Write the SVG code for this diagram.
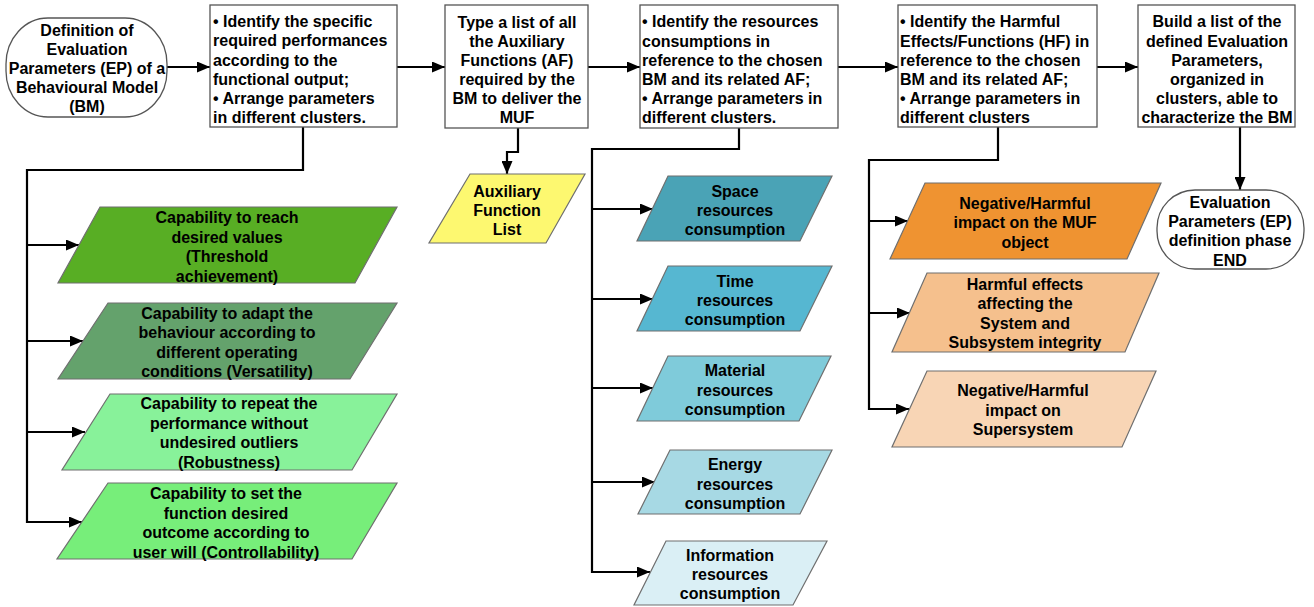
<svg xmlns="http://www.w3.org/2000/svg" width="1314" height="607" viewBox="0 0 1314 607">
<defs>
<marker id="ah" markerUnits="userSpaceOnUse" markerWidth="13" markerHeight="11" refX="13" refY="5.5" orient="auto">
<path d="M0,0 L13,5.5 L0,11 z" fill="#000"/>
</marker>
<style>
text{font-family:"Liberation Sans",Arial,sans-serif;font-weight:bold;font-size:16px;fill:#000}
.c{text-anchor:middle}
.box{fill:#fff;stroke:#555;stroke-width:1.3}
.para{stroke:#6f6f6f;stroke-width:1.2}
.con{fill:none;stroke:#000;stroke-width:2.2}
</style>
</defs>
<rect width="1314" height="607" fill="#fff"/>

<g id="connectors">
<path class="con" d="M167,67 H210" marker-end="url(#ah)"/>
<path class="con" d="M397,67 H445" marker-end="url(#ah)"/>
<path class="con" d="M588,67 H640" marker-end="url(#ah)"/>
<path class="con" d="M838,67 H898" marker-end="url(#ah)"/>
<path class="con" d="M1097,67 H1138" marker-end="url(#ah)"/>
<path class="con" d="M303,127 V170 H27 V522 H82" marker-end="url(#ah)"/>
<path class="con" d="M27,245 H79" marker-end="url(#ah)"/>
<path class="con" d="M27,341 H83" marker-end="url(#ah)"/>
<path class="con" d="M27,432 H85" marker-end="url(#ah)"/>
<path class="con" d="M518,128 V152 H507 V174" marker-end="url(#ah)"/>
<path class="con" d="M739,128 V149 H592 V572 H650" marker-end="url(#ah)"/>
<path class="con" d="M592,209 H653" marker-end="url(#ah)"/>
<path class="con" d="M592,299 H653" marker-end="url(#ah)"/>
<path class="con" d="M592,388 H653" marker-end="url(#ah)"/>
<path class="con" d="M592,482 H655" marker-end="url(#ah)"/>
<path class="con" d="M998,127 V160 H869 V409 H909" marker-end="url(#ah)"/>
<path class="con" d="M869,221 H908" marker-end="url(#ah)"/>
<path class="con" d="M869,313 H910" marker-end="url(#ah)"/>
<path class="con" d="M1240,127 V190" marker-end="url(#ah)"/>
</g>

<g id="start">
<rect class="box" x="6" y="18" width="161" height="99" rx="42" ry="46"/>
<text class="c" x="87" y="36">Definition of</text>
<text class="c" x="87" y="55">Evaluation</text>
<text class="c" x="87" y="74">Parameters (EP) of a</text>
<text class="c" x="87" y="93">Behavioural Model</text>
<text class="c" x="87" y="112">(BM)</text>
</g>

<g id="step1">
<rect class="box" x="210" y="5" width="187" height="122"/>
<text x="213" y="27">• Identify the specific</text>
<text x="213" y="46">required performances</text>
<text x="213" y="66">according to the</text>
<text x="213" y="85">functional output;</text>
<text x="213" y="104">• Arrange parameters</text>
<text x="213" y="123">in different clusters.</text>
</g>

<g id="step2">
<rect class="box" x="445" y="5" width="143" height="123"/>
<text class="c" x="517" y="28">Type a list of all</text>
<text class="c" x="517" y="47">the Auxiliary</text>
<text class="c" x="517" y="66">Functions (AF)</text>
<text class="c" x="517" y="85">required by the</text>
<text class="c" x="517" y="104">BM to deliver the</text>
<text class="c" x="517" y="123">MUF</text>
</g>

<g id="step3">
<rect class="box" x="640" y="5" width="198" height="123"/>
<text x="642" y="27">• Identify the resources</text>
<text x="642" y="47">consumptions in</text>
<text x="642" y="66">reference to the chosen</text>
<text x="642" y="85">BM and its related AF;</text>
<text x="642" y="104">• Arrange parameters in</text>
<text x="642" y="123">different clusters.</text>
</g>

<g id="step4">
<rect class="box" x="898" y="5" width="199" height="122"/>
<text x="900" y="27">• Identify the Harmful</text>
<text x="900" y="47">Effects/Functions (HF) in</text>
<text x="900" y="66">reference to the chosen</text>
<text x="900" y="85">BM and its related AF;</text>
<text x="900" y="104">• Arrange parameters in</text>
<text x="900" y="123">different clusters</text>
</g>

<g id="step5">
<rect class="box" x="1138" y="5" width="157" height="122"/>
<text class="c" x="1217" y="27">Build a list of the</text>
<text class="c" x="1217" y="47">defined Evaluation</text>
<text class="c" x="1217" y="66">Parameters,</text>
<text class="c" x="1217" y="85">organized in</text>
<text class="c" x="1217" y="104">clusters, able to</text>
<text class="c" x="1217" y="123">characterize the BM</text>
</g>

<g id="end">
<rect class="box" x="1157" y="190" width="147" height="79" rx="38" ry="38"/>
<text class="c" x="1230" y="208">Evaluation</text>
<text class="c" x="1230" y="227">Parameters (EP)</text>
<text class="c" x="1230" y="246">definition phase</text>
<text class="c" x="1230" y="266">END</text>
</g>

<g id="threshold">
<polygon class="para" points="100,207 397,207 355,283 58,283" fill="#58AE24"/>
<text class="c" x="227" y="223">Capability to reach</text>
<text class="c" x="227" y="243">desired values</text>
<text class="c" x="227" y="262">(Threshold</text>
<text class="c" x="227" y="282">achievement)</text>
</g>

<g id="versatility">
<polygon class="para" points="108,303 397,303 350,379 58,379" fill="#64A26C"/>
<text class="c" x="227" y="319">Capability to adapt the</text>
<text class="c" x="227" y="338">behaviour according to</text>
<text class="c" x="227" y="358">different operating</text>
<text class="c" x="227" y="377">conditions (Versatility)</text>
</g>

<g id="robustness">
<polygon class="para" points="110,394 397,394 352,470 62,470" fill="#88F29A"/>
<text class="c" x="229" y="409">Capability to repeat the</text>
<text class="c" x="229" y="429">performance without</text>
<text class="c" x="229" y="448">undesired outliers</text>
<text class="c" x="229" y="468">(Robustness)</text>
</g>

<g id="controllability">
<polygon class="para" points="108,483 397,483 352,559 57,559" fill="#77EE7A"/>
<text class="c" x="226" y="499">Capability to set the</text>
<text class="c" x="226" y="519">function desired</text>
<text class="c" x="226" y="538">outcome according to</text>
<text class="c" x="226" y="558">user will (Controllability)</text>
</g>

<g id="auxlist">
<polygon class="para" points="470,174 585,174 546,243 429,243" fill="#FDF870"/>
<text class="c" x="507" y="197">Auxiliary</text>
<text class="c" x="507" y="216">Function</text>
<text class="c" x="507" y="235">List</text>
</g>

<g id="space">
<polygon class="para" points="668,176 832,176 800,241 637,241" fill="#4AA3B6"/>
<text class="c" x="735" y="197">Space</text>
<text class="c" x="735" y="216">resources</text>
<text class="c" x="735" y="235">consumption</text>
</g>

<g id="time">
<polygon class="para" points="668,266 832,266 800,331 637,331" fill="#56B7D1"/>
<text class="c" x="735" y="287">Time</text>
<text class="c" x="735" y="306">resources</text>
<text class="c" x="735" y="325">consumption</text>
</g>

<g id="material">
<polygon class="para" points="668,356 831,356 799,421 637,421" fill="#7FCBDA"/>
<text class="c" x="735" y="376">Material</text>
<text class="c" x="735" y="396">resources</text>
<text class="c" x="735" y="415">consumption</text>
</g>

<g id="energy">
<polygon class="para" points="670,450 832,450 800,514 638,514" fill="#A7D9E4"/>
<text class="c" x="735" y="470">Energy</text>
<text class="c" x="735" y="490">resources</text>
<text class="c" x="735" y="509">consumption</text>
</g>

<g id="information">
<polygon class="para" points="666,541 827,541 793,605 634,605" fill="#DAEFF5"/>
<text class="c" x="730" y="561">Information</text>
<text class="c" x="730" y="580">resources</text>
<text class="c" x="730" y="599">consumption</text>
</g>

<g id="muf-impact">
<polygon class="para" points="925,183 1161,183 1127,259 890,259" fill="#EF9331"/>
<text class="c" x="1025" y="209">Negative/Harmful</text>
<text class="c" x="1025" y="228">impact on the MUF</text>
<text class="c" x="1025" y="248">object</text>
</g>

<g id="system-integrity">
<polygon class="para" points="927,273 1159,273 1125,352 892,352" fill="#F5C08D"/>
<text class="c" x="1025" y="290">Harmful effects</text>
<text class="c" x="1025" y="309">affecting the</text>
<text class="c" x="1025" y="329">System and</text>
<text class="c" x="1025" y="348">Subsystem integrity</text>
</g>

<g id="supersystem">
<polygon class="para" points="927,371 1156,371 1122,447 892,447" fill="#F8D5B5"/>
<text class="c" x="1023" y="396">Negative/Harmful</text>
<text class="c" x="1023" y="416">impact on</text>
<text class="c" x="1023" y="435">Supersystem</text>
</g>
</svg>
